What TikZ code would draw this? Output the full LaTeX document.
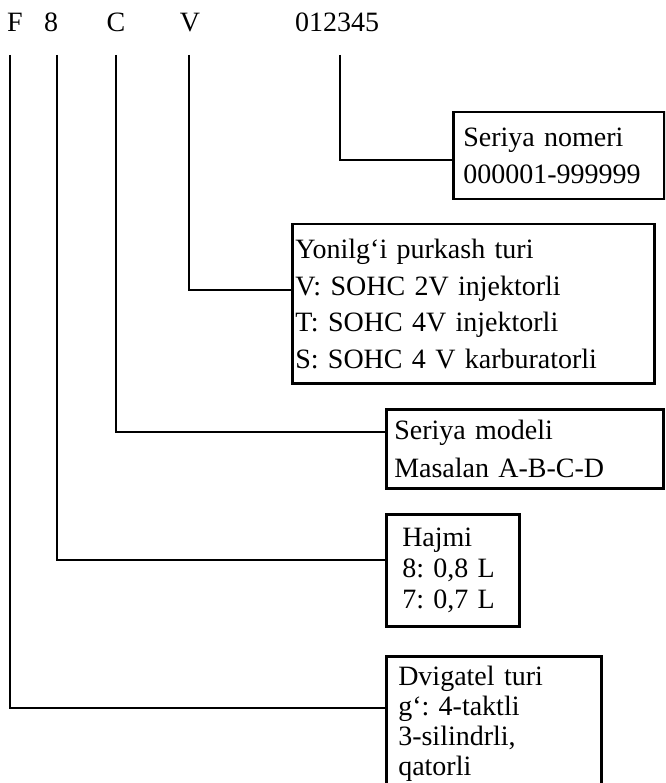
\documentclass[tikz,border=0pt]{standalone}
\usepackage{fontspec}
\setmainfont{Liberation Serif}
\frenchspacing
\begin{document}
\begin{tikzpicture}[
    x=1pt, y=-1pt,
    every node/.style={font=\fontsize{28}{36}\selectfont},
    code/.style={anchor=base, inner sep=0pt},
    infobox/.style={draw, line width=2.5pt, anchor=north west, align=left, inner ysep=0pt},
    link/.style={line width=2.5pt}
]
\useasboundingbox (0,0) rectangle (665,783);
\clip (0,0) rectangle (665,783);
\fill[white] (0,0) rectangle (665,783);
\node[code] (cF) at (15,32) {F};
\node[code] (c8) at (51,32) {8};
\node[code] (cC) at (116,32) {C};
\node[code] (cV) at (190,32) {V};
\node[code] (cnum) at (337,32) {012345};
\coordinate (tF) at (10,55);
\coordinate (t8) at (57,55);
\coordinate (tC) at (116,55);
\coordinate (tV) at (189,55);
\coordinate (tnum) at (340,55);
\node[infobox, minimum width=211pt, minimum height=87pt, text width=191pt, inner xsep=10pt,
      font=\fontsize{28}{37}\selectfont] (nomeri) at (452,111) {Seriya nomeri\\000001-999999};
\node[infobox, minimum width=362pt, minimum height=159pt, text width=356pt, inner xsep=3pt,
      font=\fontsize{28}{36.5}\selectfont] (purkash) at (291,223)
      {Yonilg‘i purkash turi\\V: SOHC 2V injektorli\\T: SOHC 4V injektorli\\S: SOHC 4 V karburatorli\\[4pt]};
\node[infobox, minimum width=277pt, minimum height=79pt, text width=261pt, inner xsep=8pt,
      font=\fontsize{28}{38}\selectfont] (modeli) at (385,408) {Seriya modeli\\Masalan A-B-C-D};
\node[infobox, minimum width=133pt, minimum height=112pt, text width=101pt, inner xsep=16pt,
      font=\fontsize{28}{31}\selectfont] (hajmi) at (385,513) {Hajmi\\8: 0,8 L\\7: 0,7 L};
\node[infobox, minimum width=215pt, minimum height=135pt, text width=191pt, inner xsep=12pt,
      font=\fontsize{28}{30}\selectfont] (dvigatel) at (385,655) {Dvigatel turi\\g‘: 4-taktli\\3-silindrli,\\qatorli};
\draw[link] (tnum) |- ([yshift=-49pt]nomeri.north west);
\draw[link] (tV) |- ([yshift=-67pt]purkash.north west);
\draw[link] (tC) |- ([yshift=-24pt]modeli.north west);
\draw[link] (t8) |- ([yshift=-47pt]hajmi.north west);
\draw[link] (tF) |- ([yshift=-53pt]dvigatel.north west);
\end{tikzpicture}
\end{document}
